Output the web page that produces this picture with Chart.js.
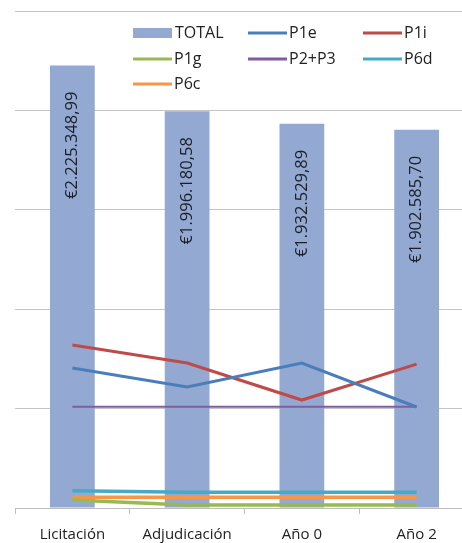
<!DOCTYPE html>
<html>
<head>
<meta charset="utf-8">
<script src="https://cdn.jsdelivr.net/npm/chart.js@4/dist/chart.umd.min.js"></script>
<style>
  html, body { margin: 0; padding: 0; background: #fff; overflow: hidden; }
  #chart { display: block; }
</style>
</head>
<body>
<canvas id="chart" width="475" height="543"></canvas>
<script>
// Categories and series
var categories = ['Licitación', 'Adjudicación', 'Año 0', 'Año 2'];
var total = [2225348.99, 1996180.58, 1932529.89, 1902585.70];
var p1e = [704000, 609000, 729000, 508000];
var p1i = [820000, 729000, 543000, 724000];
var p1g = [40000, 15000, 15000, 15000];
var p2p3 = [509000, 509000, 509000, 509000];
var p6d = [87000, 79000, 79000, 79000];
var p6c = [54000, 54000, 54000, 54000];

var FONT = '"Open Sans", "Liberation Sans", sans-serif';

// Format like Excel's €1.234.567,89
function euro(v) {
    var parts = v.toFixed(2).split('.');
    var intPart = parts[0].replace(/\B(?=(\d{3})+(?!\d))/g, '.');
    return '€' + intPart + ',' + parts[1];
}

function lineSet(label, data, color, width) {
    return {
        type: 'line',
        label: label,
        data: data,
        borderColor: color,
        backgroundColor: color,
        borderWidth: width || 3,
        pointRadius: 0,
        tension: 0,
        fill: false,
        order: 1
    };
}

// Rotated value labels inside the bars
var barLabels = {
    id: 'barLabels',
    afterDatasetsDraw: function(chart) {
        var ctx = chart.ctx;
        var meta = chart.getDatasetMeta(0);
        ctx.save();
        ctx.font = '16.5px ' + FONT;
        ctx.fillStyle = '#1b1f2a';
        ctx.textAlign = 'right';
        ctx.textBaseline = 'middle';
        meta.data.forEach(function(bar, i) {
            ctx.save();
            ctx.translate(bar.x, bar.y + 26);
            ctx.rotate(-Math.PI / 2);
            ctx.fillText(euro(total[i]), 0, 0);
            ctx.restore();
        });
        ctx.restore();
    }
};

// Legend drawn over the plot, three columns like the original
var overlayLegend = {
    id: 'overlayLegend',
    afterDraw: function(chart) {
        var ctx = chart.ctx;
        var cols = [133, 248, 363];
        var rows = [33, 59, 84];
        ctx.save();
        ctx.font = '16px ' + FONT;
        ctx.textBaseline = 'middle';
        ctx.textAlign = 'left';
        chart.data.datasets.forEach(function(ds, i) {
            var x = cols[i % 3];
            var y = rows[Math.floor(i / 3)];
            if (ds.type === 'line') {
                ctx.strokeStyle = ds.borderColor;
                ctx.lineWidth = 3;
                ctx.beginPath();
                ctx.moveTo(x, y);
                ctx.lineTo(x + 39, y);
                ctx.stroke();
                ctx.fillStyle = '#222';
                ctx.fillText(ds.label, x + 41, y);
            } else {
                ctx.fillStyle = ds.backgroundColor;
                ctx.fillRect(x, y - 5, 39, 10);
                ctx.fillStyle = '#222';
                ctx.fillText(ds.label, x + 42, y);
            }
        });
        ctx.restore();
    }
};

var chart = new Chart(document.getElementById('chart'), {
    type: 'bar',
    data: {
        labels: categories,
        datasets: [
            {
                type: 'bar',
                label: 'TOTAL',
                data: total,
                backgroundColor: '#93a9d1',
                barPercentage: 0.39,
                categoryPercentage: 1,
                order: 2
            },
            lineSet('P1e', p1e, '#4a7ebb'),
            lineSet('P1i', p1i, '#be4b48'),
            lineSet('P1g', p1g, '#98b954', 3.5),
            lineSet('P2+P3', p2p3, '#7d5fa0', 2),
            lineSet('P6d', p6d, '#46aac5', 3.5),
            lineSet('P6c', p6c, '#f79646', 3.5)
        ]
    },
    options: {
        responsive: false,
        animation: false,
        devicePixelRatio: 1,
        layout: { padding: { left: 15, right: 1, top: 11, bottom: 0 } },
        plugins: {
            legend: { display: false },
            tooltip: { enabled: false }
        },
        scales: {
            x: {
                offset: true,
                grid: {
                    offset: true,
                    drawOnChartArea: false,
                    drawTicks: true,
                    tickLength: 6,
                    color: '#bdbdbd'
                },
                border: { display: true, color: '#bdbdbd', width: 1 },
                ticks: {
                    color: '#222',
                    font: { family: FONT, size: 15 },
                    padding: 12,
                    maxRotation: 0,
                    autoSkip: false
                },
                afterFit: function(scale) { scale.height = 35; }
            },
            y: {
                min: 0,
                max: 2500000,
                ticks: { display: false, stepSize: 500000 },
                grid: { drawTicks: false, color: '#c4c4c4', lineWidth: 1 },
                border: { display: false },
                afterFit: function(scale) { scale.width = 0; }
            }
        }
    },
    plugins: [barLabels, overlayLegend]
});
</script>
</body>
</html>
